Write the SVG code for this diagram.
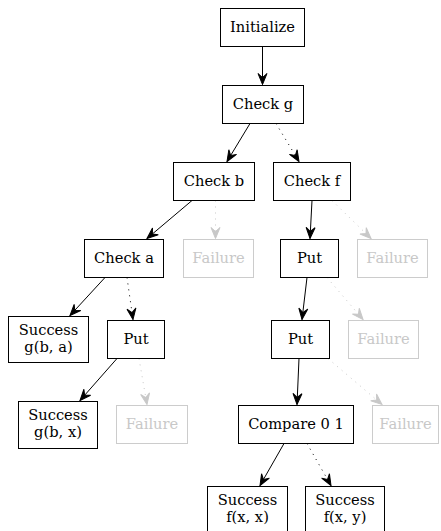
<svg xmlns="http://www.w3.org/2000/svg" width="441" height="531" viewBox="0 0 441 531">
<style>
  .n rect { fill: #ffffff; stroke: #000000; stroke-width: 1; }
  .n text { font-family: "DejaVu Serif", "Liberation Serif", serif; font-size: 14.67px; fill: #000000; text-anchor: middle; }
  .f rect { fill: #ffffff; stroke: #cccccc; stroke-width: 1; }
  .f text { font-family: "DejaVu Serif", "Liberation Serif", serif; font-size: 14.67px; fill: #c8c8c8; text-anchor: middle; }
  .e { fill: none; stroke: #000000; stroke-width: 1; }
  .solid { marker-end: url(#vee); }
  .dot { stroke-dasharray: 1 5; marker-end: url(#vee); }
  .gray { stroke: #c8c8c8; stroke-dasharray: 1 5; marker-end: url(#veeg); }
</style>
<defs>
  <marker id="vee" markerUnits="userSpaceOnUse" markerWidth="14" markerHeight="14" refX="11" refY="5" orient="auto" overflow="visible">
    <path d="M11,5 L0,0.5 L4,5 L0,9.5 Z" fill="#000000" stroke="#000000" stroke-width="1"/>
  </marker>
  <marker id="veeg" markerUnits="userSpaceOnUse" markerWidth="14" markerHeight="14" refX="11" refY="5" orient="auto" overflow="visible">
    <path d="M11,5 L0,0.5 L4,5 L0,9.5 Z" fill="#c8c8c8" stroke="#c8c8c8" stroke-width="1"/>
  </marker>
</defs>
<rect width="441" height="531" fill="#ffffff"/>
<g id="edges">
  <path class="e solid" d="M262.5,46.5 L262.5,84.5"/>
  <path class="e solid" d="M250,123.5 L227,161.5"/>
  <path class="e dot" d="M276,123.5 L299,161.5"/>
  <path class="e solid" d="M192,200.5 L147,238.5"/>
  <path class="e gray" d="M215.5,200.5 L215.5,238.5"/>
  <path class="e solid" d="M312,200.5 L310,238.5"/>
  <path class="e gray" d="M332,200.5 L371,238.5"/>
  <path class="e solid" d="M105,277.5 L70,315.5"/>
  <path class="e dot" d="M127,277.5 L133,319.5"/>
  <path class="e solid" d="M307,277.5 L302,319.5"/>
  <path class="e gray" d="M327,277.5 L363,319.5"/>
  <path class="e solid" d="M117,358.5 L80,400.5"/>
  <path class="e gray" d="M139,358.5 L147,404.5"/>
  <path class="e solid" d="M299,358.5 L297,404.5"/>
  <path class="e gray" d="M328,358.5 L382,404.5"/>
  <path class="e solid" d="M284,443.5 L260,485.5"/>
  <path class="e dot" d="M307,443.5 L331,485.5"/>
</g>
<g id="initialize" class="n"><rect x="220.5" y="8.5" width="84" height="38"/><text x="262.5" y="32">Initialize</text></g>
<g id="check_g" class="n"><rect x="222.5" y="85.5" width="81" height="38"/><text x="263" y="109">Check g</text></g>
<g id="check_b" class="n"><rect x="173.5" y="162.5" width="81" height="38"/><text x="214" y="186">Check b</text></g>
<g id="check_f" class="n"><rect x="273.5" y="162.5" width="77" height="38"/><text x="312" y="186">Check f</text></g>
<g id="check_a" class="n"><rect x="84.5" y="239.5" width="79" height="38"/><text x="124" y="263">Check a</text></g>
<g id="failure_1" class="f"><rect x="183.5" y="239.5" width="70" height="38"/><text x="218.5" y="263">Failure</text></g>
<g id="put_1" class="n"><rect x="280.5" y="239.5" width="58" height="38"/><text x="309.5" y="263">Put</text></g>
<g id="failure_2" class="f"><rect x="357.5" y="239.5" width="70" height="38"/><text x="392.5" y="263">Failure</text></g>
<g id="success_gba" class="n"><rect x="8.5" y="316.5" width="80" height="46"/><text x="48.5" y="334.5">Success</text><text x="48.5" y="351.5">g(b, a)</text></g>
<g id="put_left" class="n"><rect x="107.5" y="320.5" width="57" height="38"/><text x="136" y="344">Put</text></g>
<g id="put_2" class="n"><rect x="271.5" y="320.5" width="58" height="38"/><text x="300.5" y="344">Put</text></g>
<g id="failure_3" class="f"><rect x="348.5" y="320.5" width="70" height="38"/><text x="383.5" y="344">Failure</text></g>
<g id="success_gbx" class="n"><rect x="18.5" y="401.5" width="79" height="47"/><text x="58" y="419.5">Success</text><text x="58" y="436.5">g(b, x)</text></g>
<g id="failure_4" class="f"><rect x="116.5" y="405.5" width="71" height="38"/><text x="152" y="429">Failure</text></g>
<g id="compare" class="n"><rect x="238.5" y="405.5" width="115" height="38"/><text x="296" y="429">Compare 0 1</text></g>
<g id="failure_5" class="f"><rect x="372.5" y="405.5" width="66" height="38"/><text x="405.5" y="429">Failure</text></g>
<g id="success_fxx" class="n"><rect x="207.5" y="486.5" width="80" height="46"/><text x="247.5" y="504.5">Success</text><text x="247.5" y="521.5">f(x, x)</text></g>
<g id="success_fxy" class="n"><rect x="305.5" y="486.5" width="79" height="46"/><text x="345" y="504.5">Success</text><text x="345" y="521.5">f(x, y)</text></g>
</svg>
